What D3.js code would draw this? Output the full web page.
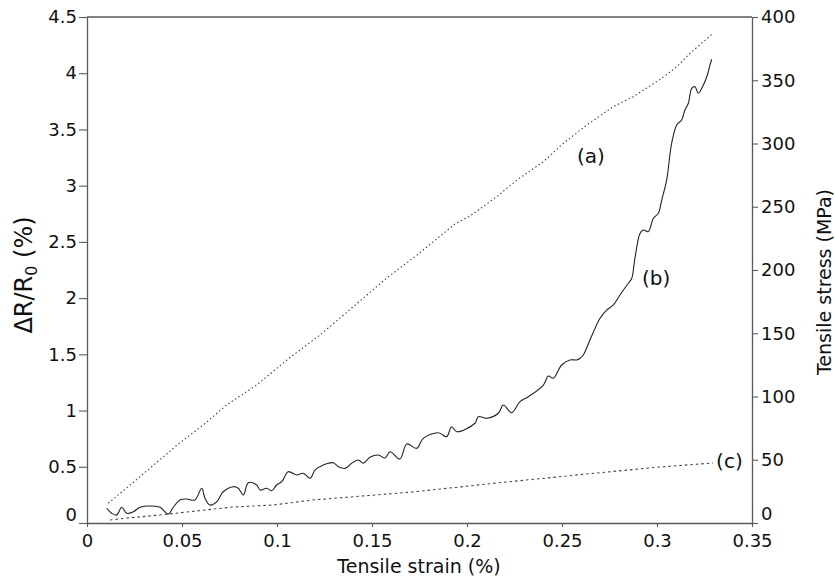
<!DOCTYPE html>
<html>
<head>
<meta charset="utf-8">
<script src="https://cdn.jsdelivr.net/npm/d3@7"></script>
<style>
  html, body { margin: 0; padding: 0; background: #fff; }
  svg { display: block; }
  text { font-family: "DejaVu Sans", sans-serif; fill: #111; }
</style>
</head>
<body>
<svg id="chart" width="835" height="581"></svg>
<script>
// ---- Data ----
const xTicks = [0, 0.05, 0.1, 0.15, 0.2, 0.25, 0.3, 0.35];
const xTickLabels = ["0", "0.05", "0.1", "0.15", "0.2", "0.25", "0.3", "0.35"];
const yLeftTicks = [0, 0.5, 1, 1.5, 2, 2.5, 3, 3.5, 4, 4.5];
const yLeftTickLabels = ["0", "0.5", "1", "1.5", "2", "2.5", "3", "3.5", "4", "4.5"];
const yRightTicks = [0, 50, 100, 150, 200, 250, 300, 350, 400];
const yRightTickLabels = ["0", "50", "100", "150", "200", "250", "300", "350", "400"];

// (a) tensile stress (MPa, right axis)
const strainA = [0.0112, 0.0279, 0.0481, 0.0612, 0.0735, 0.0893, 0.1063, 0.1226, 0.1375, 0.1586,
  0.1726, 0.1937, 0.2016, 0.2156, 0.2262, 0.2402, 0.2507, 0.2630, 0.2770, 0.2875,
  0.3025, 0.3104, 0.3174, 0.3244, 0.3296];
const stressA = [15.6, 36.6, 62.5, 77.5, 93.3, 109.1, 130.2, 148.6, 167.6, 194.7,
  210.5, 236.4, 242.7, 257.9, 271.1, 285.6, 300.1, 314.6, 329.1, 337.0,
  351.5, 360.7, 371.3, 380.5, 387.1];

// (b) ΔR/R0 (%, left axis)
const strainB = [0.0104, 0.0130, 0.0156, 0.0183, 0.0209, 0.0244, 0.0279, 0.0314, 0.0384, 0.0428,
  0.0454, 0.0489, 0.0525, 0.0568, 0.0604, 0.0621, 0.0647, 0.0683, 0.0717, 0.0770,
  0.0796, 0.0823, 0.0849, 0.0893, 0.0911, 0.0946, 0.0972, 0.0998, 0.1025, 0.1059,
  0.1104, 0.1138, 0.1174, 0.1200, 0.1226, 0.1270, 0.1296, 0.1323, 0.1358, 0.1393,
  0.1428, 0.1454, 0.1489, 0.1533, 0.1568, 0.1595, 0.1647, 0.1683, 0.1735, 0.1770,
  0.1849, 0.1893, 0.1919, 0.1946, 0.2042, 0.2059, 0.2104, 0.2165, 0.2191, 0.2235,
  0.2279, 0.2323, 0.2402, 0.2428, 0.2454, 0.2498, 0.2542, 0.2577, 0.2595, 0.2612,
  0.2647, 0.2700, 0.2735, 0.2770, 0.2805, 0.2849, 0.2867, 0.2884, 0.2911, 0.2928,
  0.2954, 0.2981, 0.3007, 0.3025, 0.3051, 0.3077, 0.3104, 0.3130, 0.3147, 0.3165,
  0.3183, 0.3200, 0.3217, 0.3244, 0.3262, 0.3270, 0.3279, 0.3288];
const resistB = [0.131, 0.086, 0.071, 0.140, 0.086, 0.100, 0.140, 0.151, 0.140, 0.080,
  0.140, 0.205, 0.213, 0.205, 0.309, 0.220, 0.160, 0.189, 0.278, 0.323,
  0.309, 0.249, 0.358, 0.338, 0.293, 0.309, 0.287, 0.338, 0.367, 0.456,
  0.427, 0.442, 0.398, 0.471, 0.501, 0.531, 0.536, 0.501, 0.486, 0.531,
  0.560, 0.531, 0.584, 0.605, 0.578, 0.634, 0.569, 0.703, 0.664, 0.753,
  0.803, 0.768, 0.856, 0.812, 0.887, 0.945, 0.931, 0.976, 1.049, 0.981,
  1.079, 1.123, 1.227, 1.307, 1.287, 1.405, 1.450, 1.450, 1.465, 1.494,
  1.628, 1.821, 1.894, 1.939, 2.028, 2.132, 2.176, 2.357, 2.577, 2.606,
  2.591, 2.710, 2.754, 2.873, 3.051, 3.377, 3.540, 3.584, 3.673, 3.733,
  3.866, 3.880, 3.822, 3.895, 3.969, 4.014, 4.073, 4.124];

// (c) ΔR/R0 (%, left axis)
const strainC = [0.0121, 0.0211, 0.0384, 0.0526, 0.0768, 0.0979, 0.1189, 0.1384, 0.1716, 0.2158, 0.2684, 0.3016, 0.3295];
const resistC = [0.027, 0.044, 0.071, 0.098, 0.142, 0.160, 0.205, 0.231, 0.276, 0.356, 0.445, 0.498, 0.534];

const curveLabels = ["(a)", "(b)", "(c)"];
const xTitle = "Tensile strain (%)";
const yRightTitle = "Tensile stress (MPa)";

// ---- Layout ----
const svg = d3.select("#chart");
const L = 87, R = 752, T = 17, B = 523;

const x = d3.scaleLinear().domain([0, 0.35]).range([L, R]);
const yL = d3.scaleLinear().domain([0, 4.5]).range([B, T]);
const yR = d3.scaleLinear().domain([0, 400]).range([B, T]);

const axisColor = "#5a5a5a";

// frame top line
svg.append("line").attr("x1", L).attr("x2", R).attr("y1", T).attr("y2", T)
  .attr("stroke", axisColor).attr("stroke-width", 1.3);

function styleAxis(g) {
  g.select(".domain").attr("stroke", axisColor).attr("stroke-width", 1.3);
  g.selectAll(".tick line").attr("stroke", axisColor).attr("stroke-width", 1.1);
  g.selectAll(".tick text").attr("font-family", "DejaVu Sans, sans-serif")
    .attr("font-size", 18).attr("fill", "#111");
}

const gx = svg.append("g").attr("transform", `translate(0,${B})`)
  .call(d3.axisBottom(x).tickValues(xTicks).tickFormat((d, i) => xTickLabels[i])
    .tickSizeInner(4).tickSizeOuter(0).tickPadding(7));
styleAxis(gx);

const gyl = svg.append("g").attr("transform", `translate(${L},0)`)
  .call(d3.axisLeft(yL).tickValues(yLeftTicks).tickFormat((d, i) => yLeftTickLabels[i])
    .tickSizeInner(8).tickSizeOuter(0).tickPadding(2));
styleAxis(gyl);
gyl.selectAll(".tick text").filter(d => d === 0).attr("dy", "-0.15em");

const gyr = svg.append("g").attr("transform", `translate(${R},0)`)
  .call(d3.axisRight(yR).tickValues(yRightTicks).tickFormat((d, i) => yRightTickLabels[i])
    .tickSizeInner(6).tickSizeOuter(0).tickPadding(3));
styleAxis(gyr);
gyr.selectAll(".tick text").filter(d => d === 0).attr("dy", "-0.2em");

// ---- Curves ----
const dataA = strainA.map((s, i) => [s, stressA[i]]);
const dataB = strainB.map((s, i) => [s, resistB[i]]);
const dataC = strainC.map((s, i) => [s, resistC[i]]);

svg.append("path").datum(dataA)
  .attr("d", d3.line().x(d => x(d[0])).y(d => yR(d[1])))
  .attr("fill", "none").attr("stroke", "#444").attr("stroke-width", 1.1)
  .attr("stroke-dasharray", "1.5,2.5");

svg.append("path").datum(dataB)
  .attr("d", d3.line().x(d => x(d[0])).y(d => yL(d[1])).curve(d3.curveCatmullRom.alpha(0.5)))
  .attr("fill", "none").attr("stroke", "#222").attr("stroke-width", 1.1);

svg.append("path").datum(dataC)
  .attr("d", d3.line().x(d => x(d[0])).y(d => yL(d[1])))
  .attr("fill", "none").attr("stroke", "#444").attr("stroke-width", 1.1)
  .attr("stroke-dasharray", "2.5,3");

// ---- Curve labels ----
const labelPos = [
  {x: x(0.2579), y: yR(290)},
  {x: x(0.2921), y: yL(2.18)},
  {x: x(0.3311), y: yL(0.55)}
];
curveLabels.forEach((t, i) => {
  svg.append("text").attr("x", labelPos[i].x).attr("y", labelPos[i].y)
    .attr("dy", "0.35em").attr("font-size", 20).text(t);
});

// ---- Axis titles ----
svg.append("text").attr("x", 419).attr("y", 573).attr("text-anchor", "middle")
  .attr("font-size", 19).text(xTitle);

const lt = svg.append("text").attr("transform", "translate(32,275) rotate(-90)")
  .attr("text-anchor", "middle").attr("font-size", 24);
lt.append("tspan").text("ΔR/R");
lt.append("tspan").attr("font-size", 16).attr("dy", "0.3em").text("0");
lt.append("tspan").attr("dy", "-0.2em").text(" (%)");

svg.append("text").attr("transform", "translate(831,282) rotate(-90)")
  .attr("text-anchor", "middle").attr("font-size", 19).text(yRightTitle);
</script>
</body>
</html>
